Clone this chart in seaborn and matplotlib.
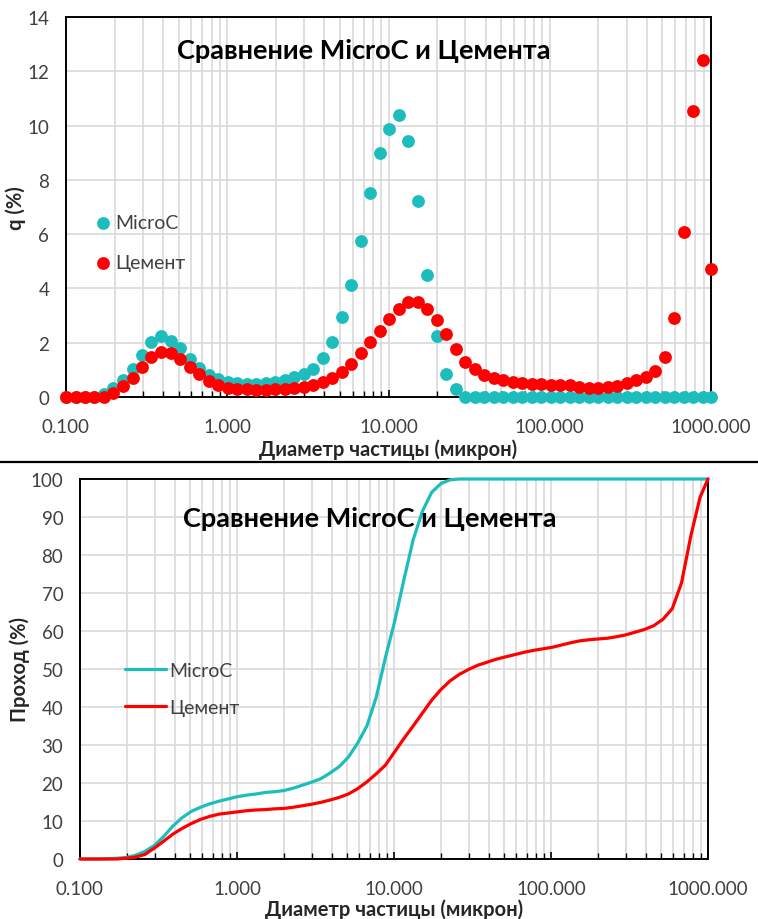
import numpy as np
import pandas as pd
import seaborn as sns
import matplotlib.pyplot as plt
from matplotlib.lines import Line2D
from matplotlib.ticker import LogLocator, NullFormatter

# диаметры частиц (мкм), каналы прибора
sizes = [0.100, 0.115, 0.131, 0.150, 0.172, 0.197, 0.226, 0.259, 0.296, 0.339,
         0.389, 0.445, 0.510, 0.584, 0.669, 0.766, 0.877, 1.005, 1.151, 1.318,
         1.510, 1.729, 1.981, 2.269, 2.599, 2.976, 3.409, 3.905, 4.472, 5.122,
         5.867, 6.720, 7.697, 8.816, 10.097, 11.565, 13.246, 15.172, 17.377, 19.904,
         22.797, 26.111, 29.907, 34.255, 39.234, 44.938, 51.471, 58.953, 67.523, 77.339,
         88.583, 101.460, 116.210, 133.103, 152.453, 174.616, 200.000, 229.075, 262.376, 300.518,
         344.206, 394.244, 451.556, 517.200, 592.387, 678.504, 777.141, 890.116, 1000.000]

# q (%) - частные остатки
q_microc = [0, 0, 0, 0, 0.10, 0.32, 0.64, 1.03, 1.55, 2.01,
            2.24, 2.07, 1.79, 1.40, 1.06, 0.81, 0.66, 0.56, 0.50, 0.48,
            0.48, 0.50, 0.55, 0.62, 0.72, 0.86, 1.03, 1.44, 2.04, 2.96,
            4.14, 5.76, 7.50, 8.99, 9.87, 10.38, 9.44, 7.23, 4.50, 2.24,
            0.85, 0.30, 0, 0, 0, 0, 0, 0, 0, 0,
            0, 0, 0, 0, 0, 0, 0, 0, 0, 0,
            0, 0, 0, 0, 0, 0, 0, 0, 0]
q_cement = [0, 0, 0, 0, 0, 0.15, 0.39, 0.69, 1.09, 1.46,
            1.67, 1.62, 1.40, 1.09, 0.85, 0.60, 0.44, 0.34, 0.30, 0.28,
            0.27, 0.27, 0.28, 0.30, 0.34, 0.38, 0.45, 0.54, 0.69, 0.93,
            1.22, 1.62, 2.04, 2.42, 2.87, 3.24, 3.51, 3.51, 3.24, 2.85,
            2.31, 1.77, 1.30, 1.03, 0.81, 0.70, 0.62, 0.56, 0.52, 0.49,
            0.47, 0.46, 0.45, 0.44, 0.38, 0.34, 0.33, 0.36, 0.42, 0.52,
            0.63, 0.75, 0.97, 1.48, 2.90, 6.07, 10.53, 12.43, 4.72]

# Проход (%) - интегральные кривые
pass_microc = [0, 0, 0, 0.1, 0.2, 0.4, 1.0, 2.0, 3.5, 5.8,
               8.6, 10.8, 12.5, 13.6, 14.5, 15.2, 15.8, 16.4, 16.8, 17.1,
               17.5, 17.7, 18.0, 18.6, 19.4, 20.2, 21.1, 22.6, 24.3, 26.8,
               30.5, 35.0, 42.5, 53.0, 62.5, 73.5, 84.0, 91.5, 96.5, 98.8,
               99.8, 100, 100, 100, 100, 100, 100, 100, 100, 100,
               100, 100, 100, 100, 100, 100, 100, 100, 100, 100,
               100, 100, 100, 100, 100, 100, 100, 100, 100]
pass_cement = [0, 0, 0, 0, 0, 0.2, 0.5, 1.2, 2.8, 4.6,
               6.5, 8.0, 9.3, 10.4, 11.2, 11.8, 12.1, 12.4, 12.7, 12.9,
               13.0, 13.2, 13.3, 13.6, 14.0, 14.4, 14.9, 15.5, 16.2, 17.1,
               18.5, 20.3, 22.4, 24.7, 28.2, 31.7, 35.0, 38.4, 41.8, 44.6,
               46.9, 48.6, 49.9, 51.0, 51.8, 52.6, 53.2, 53.8, 54.4, 54.9,
               55.3, 55.7, 56.3, 56.9, 57.4, 57.7, 57.9, 58.1, 58.5, 59.0,
               59.7, 60.4, 61.4, 63.1, 65.9, 72.7, 85.0, 95.2, 100.0]

x_ticks = [0.1, 1, 10, 100, 1000]
x_ticklabels = ["0.100", "1.000", "10.000", "100.000", "1000.000"]
series_names = ["MicroC", "Цемент"]
title = "Сравнение MicroC и Цемента"
x_label = "Диаметр частицы (микрон)"

df = pd.DataFrame({"size": sizes, "q_microc": q_microc, "q_cement": q_cement,
                   "pass_microc": pass_microc, "pass_cement": pass_cement})

sns.set_style("white")
plt.rcParams['font.family'] = ['Lato', 'DejaVu Sans']

teal = "#1DBDBD"
red = "#FF0000"
gridc = "#D9D9D9"
txt = "#404040"

fig = plt.figure(figsize=(7.58, 9.2), dpi=100)
ax1 = fig.add_axes([66/758, 1 - 398/920, 645/758, 380/920])
ax2 = fig.add_axes([80/758, 1 - 860/920, 628/758, 380/920])

#----- верхний график: q (%)
sns.scatterplot(data=df, x="size", y="q_microc", color=teal, s=85, linewidth=0,
                label=series_names[0], ax=ax1, clip_on=False, zorder=3)
sns.scatterplot(data=df, x="size", y="q_cement", color=red, s=85, linewidth=0,
                label=series_names[1], ax=ax1, clip_on=False, zorder=4)

#----- нижний график: проход (%)
sns.lineplot(data=df, x="size", y="pass_microc", color=teal, lw=2.3,
             label=series_names[0], ax=ax2, clip_on=False, zorder=3)
sns.lineplot(data=df, x="size", y="pass_cement", color=red, lw=2.3,
             label=series_names[1], ax=ax2, clip_on=False, zorder=4)


def style_axes(ax, ymax, ystep, title_y):
    ax.set_xscale('log')
    ax.set_xlim(0.1, 1000)
    ax.set_ylim(0, ymax)
    ax.set_xticks(x_ticks)
    ax.set_xticklabels(x_ticklabels)
    ax.xaxis.set_minor_locator(LogLocator(base=10, subs=np.arange(2, 10)))
    ax.xaxis.set_minor_formatter(NullFormatter())
    ax.set_yticks(np.arange(0, ymax + 1, ystep))
    ax.grid(True, which='major', color=gridc, lw=1.2)
    ax.grid(True, which='minor', axis='x', color=gridc, lw=1.2)
    ax.set_axisbelow(True)
    for sp in ax.spines.values():
        sp.set_color('black')
        sp.set_linewidth(1.4)
    ax.tick_params(axis='x', which='both', direction='in', color='black', pad=15,
                   labelsize=13.5, labelcolor=txt, bottom=True)
    ax.tick_params(axis='x', which='major', length=5, width=1.2)
    ax.tick_params(axis='x', which='minor', length=4, width=1)
    ax.tick_params(axis='y', length=0, pad=12, labelsize=13.5, labelcolor=txt)
    ax.text(0.462, title_y, title, transform=ax.transAxes, ha='center', va='center',
            fontsize=19.5, fontweight='bold', color='black')


style_axes(ax1, 14, 2, 0.913)
style_axes(ax2, 100, 10, 0.898)

ax1.set_xlabel(x_label, fontsize=14.5, fontweight='bold', color='#262626')
ax1.xaxis.set_label_coords(0.5, -0.108)
ax1.set_ylabel("q (%)", fontsize=14.5, fontweight='bold', color='#262626')
ax1.yaxis.set_label_coords(-0.062, 0.5)

ax2.set_xlabel(x_label, fontsize=14.5, fontweight='bold', color='#262626')
ax2.xaxis.set_label_coords(0.5, -0.105)
ax2.set_ylabel("Проход (%)", fontsize=14.5, fontweight='bold', color='#262626')
ax2.yaxis.set_label_coords(-0.08, 0.5)

ax1.legend(loc='upper left', bbox_to_anchor=(0.0434, 0.482), frameon=False,
           fontsize=14, labelspacing=1.2, handlelength=0.95, handletextpad=0.15,
           borderpad=0, borderaxespad=0, labelcolor=txt)
ax2.legend(loc='upper left', bbox_to_anchor=(0.0717, 0.519), frameon=False,
           fontsize=14, labelspacing=1.05, handlelength=2.1, handletextpad=0.2,
           borderpad=0, borderaxespad=0, labelcolor=txt)

# разделитель между графиками
fig.add_artist(Line2D([0, 1], [1 - 463/920, 1 - 463/920], transform=fig.transFigure,
                      color='black', lw=1.6))

plt.savefig("out.png", dpi=100)
